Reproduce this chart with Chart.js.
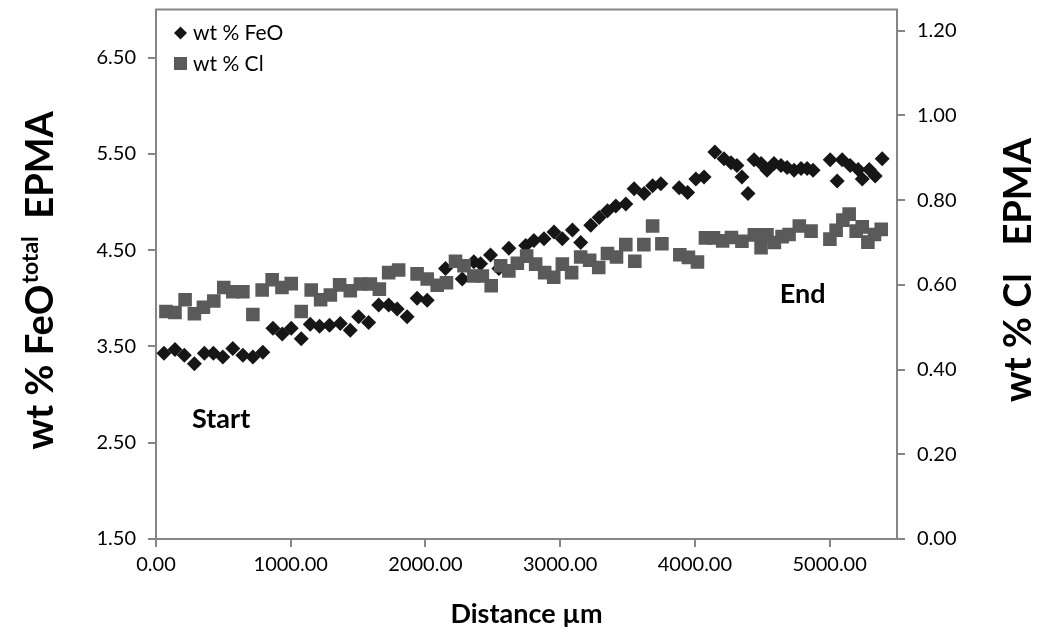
<!DOCTYPE html>
<html>
<head>
<meta charset="utf-8">
<script src="https://cdn.jsdelivr.net/npm/chart.js@4.4.1/dist/chart.umd.min.js"></script>
<style>
  html, body { margin: 0; padding: 0; background: #fff; }
  #wrap { width: 1045px; height: 641px; }
</style>
</head>
<body>
<div id="wrap"><canvas id="c" width="1045" height="641"></canvas></div>
<script>
// distance (µm) and wt % FeO
const feoX = [59,141,210,285,359,426,496,570,645,719,793,868,937,1004,1078,1145,1214,1288,1368,1442,
  1504,1578,1653,1727,1790,1864,1938,2013,2149,2273,2359,2409,2483,2545,2619,2744,2805,2880,2954,3016,
  3091,3152,3227,3289,3351,3413,3487,3549,3623,3686,3747,3883,3946,4007,4068,4148,4216,4268,4312,4349,
  4394,4439,4491,4535,4587,4639,4684,4736,4788,4833,4877,5004,5056,5093,5152,5212,5242,5294,5338,5390];
const feoY = [3.43,3.47,3.41,3.32,3.43,3.43,3.39,3.48,3.41,3.39,3.44,3.69,3.63,3.69,3.58,3.73,3.71,3.72,3.74,3.67,
  3.81,3.75,3.93,3.93,3.89,3.81,4.00,3.98,4.31,4.20,4.38,4.36,4.45,4.31,4.52,4.55,4.60,4.62,4.69,4.62,
  4.71,4.58,4.76,4.84,4.91,4.96,4.98,5.14,5.09,5.17,5.19,5.15,5.10,5.24,5.26,5.52,5.45,5.41,5.38,5.26,
  5.09,5.44,5.40,5.33,5.40,5.38,5.36,5.33,5.35,5.35,5.33,5.44,5.22,5.44,5.38,5.34,5.24,5.34,5.27,5.45];

// distance (µm) and wt % Cl
const clX = [74,141,216,285,352,429,503,570,645,719,788,862,935,1004,1078,1152,1222,1294,1363,1442,
  1517,1591,1658,1727,1801,1938,2013,2087,2156,2223,2286,2359,2422,2488,2558,2619,2682,2751,2818,2885,
  2952,3016,3085,3152,3219,3286,3351,3418,3487,3554,3621,3686,3755,3888,3952,4019,4078,4138,4206,4271,
  4349,4441,4491,4535,4590,4647,4699,4775,4862,5002,5048,5098,5145,5197,5242,5284,5333,5383];
const clY = [0.537,0.535,0.565,0.532,0.547,0.562,0.594,0.584,0.584,0.530,0.588,0.612,0.594,0.603,0.537,0.588,0.565,0.576,0.600,0.586,
  0.602,0.602,0.590,0.629,0.635,0.626,0.614,0.599,0.605,0.656,0.645,0.621,0.621,0.598,0.645,0.633,0.651,0.668,0.649,0.629,
  0.618,0.649,0.629,0.666,0.658,0.641,0.674,0.666,0.695,0.656,0.695,0.739,0.697,0.671,0.665,0.654,0.711,0.711,0.704,0.712,
  0.703,0.718,0.688,0.718,0.700,0.714,0.719,0.739,0.727,0.708,0.729,0.753,0.767,0.727,0.737,0.701,0.719,0.731];

const xTicks = [0,1000,2000,3000,4000,5000];
const feoTicks = [1.5,2.5,3.5,4.5,5.5,6.5];
const clTicks = [0,0.2,0.4,0.6,0.8,1.0,1.2];

// text notes, placed in data units (x µm, y wt % FeO)
const notes = [
  { text: "Start", x: 268, y: 2.65 },
  { text: "End", x: 4630, y: 3.95 }
];

const AXIS = "#868686";
const FEO_COL = "#161616";
const CL_COL = "#5a5a5a";
const FONT = "Lato, 'Open Sans', sans-serif";

const pts = (xs, ys) => xs.map((x, i) => ({ x, y: ys[i] }));

function tickSet(list) {
  return s => { s.ticks = list.map(v => ({ value: v })); };
}

// fixed axis box sizes, no extra room for half tick labels
function fitY(w) {
  return s => { s.width = w; s.paddingTop = 0; s.paddingBottom = 0; };
}

const decor = {
  id: "decor",
  afterDraw(chart) {
    const { ctx, chartArea: a, scales } = chart;
    ctx.save();

    // top frame line
    ctx.strokeStyle = AXIS;
    ctx.lineWidth = 2;
    ctx.beginPath();
    ctx.moveTo(a.left - 1, a.top);
    ctx.lineTo(a.right + 1, a.top);
    ctx.stroke();

    // legend
    ctx.fillStyle = FEO_COL;
    ctx.beginPath();
    ctx.moveTo(174, 33); ctx.lineTo(180.5, 26.5); ctx.lineTo(187, 33); ctx.lineTo(180.5, 39.5);
    ctx.closePath(); ctx.fill();
    ctx.fillStyle = CL_COL;
    ctx.fillRect(174, 57, 13, 13);
    ctx.fillStyle = "#000";
    ctx.font = "21px " + FONT;
    ctx.textBaseline = "middle";
    ctx.textAlign = "left";
    ctx.fillText(chart.data.datasets[0].label, 193, 33);
    ctx.fillText(chart.data.datasets[1].label, 193, 64);

    // notes
    ctx.font = "bold 27px " + FONT;
    ctx.textBaseline = "alphabetic";
    notes.forEach(n => {
      ctx.fillText(n.text, scales.x.getPixelForValue(n.x), scales.y.getPixelForValue(n.y));
    });

    // x title
    ctx.textAlign = "center";
    ctx.font = "bold 27px " + FONT;
    ctx.fillText("Distance µm", (a.left + a.right) / 2, 623);

    // left title with superscript
    const big = "bold 38px " + FONT, small = "bold 23px " + FONT;
    const p1 = "wt % FeO", p2 = "total", p3 = "  EPMA";
    ctx.font = big; const w1 = ctx.measureText(p1).width, w3 = ctx.measureText(p3).width;
    ctx.font = small; const w2 = ctx.measureText(p2).width;
    const tot = w1 + w2 + w3;
    ctx.save();
    ctx.translate(53, (a.top + a.bottom) / 2 + 6 + tot / 2);
    ctx.rotate(-Math.PI / 2);
    ctx.textAlign = "left";
    ctx.font = big; ctx.fillText(p1, 0, 0);
    ctx.font = small; ctx.fillText(p2, w1 + 1, -15);
    ctx.font = big; ctx.fillText(p3, w1 + w2, 0);
    ctx.restore();

    // right title
    ctx.save();
    ctx.translate(1031, 270);
    ctx.rotate(-Math.PI / 2);
    ctx.textAlign = "center";
    ctx.font = big;
    ctx.fillText("wt % Cl   EPMA", 0, 0);
    ctx.restore();

    ctx.restore();
  }
};

const tickFont = { family: FONT, size: 20 };

new Chart(document.getElementById("c"), {
  type: "scatter",
  data: {
    datasets: [
      {
        label: "wt % FeO",
        data: pts(feoX, feoY),
        yAxisID: "y",
        pointStyle: "rectRot",
        radius: 7.5,
        hoverRadius: 7.5,
        backgroundColor: FEO_COL,
        borderWidth: 0,
        order: 1
      },
      {
        label: "wt % Cl",
        data: pts(clX, clY),
        yAxisID: "y1",
        pointStyle: "rect",
        radius: 9.6,
        hoverRadius: 9.6,
        backgroundColor: CL_COL,
        borderWidth: 0,
        order: 0
      }
    ]
  },
  options: {
    responsive: false,
    devicePixelRatio: 1,
    animation: false,
    layout: { padding: { top: 9, left: 0, right: 0, bottom: 0 } },
    plugins: { legend: { display: false }, tooltip: { enabled: false } },
    scales: {
      x: {
        type: "linear",
        min: 0, max: 5500,
        afterBuildTicks: tickSet(xTicks),
        afterFit: s => { s.height = 102; },
        ticks: { font: tickFont, color: "#000", padding: 6, maxRotation: 0, callback: v => v.toFixed(2) },
        grid: { drawOnChartArea: false, drawTicks: true, tickLength: 8, color: AXIS, lineWidth: 2 },
        border: { display: true, color: AXIS, width: 2 }
      },
      y: {
        position: "left",
        min: 1.5, max: 7.0,
        afterBuildTicks: tickSet(feoTicks),
        afterFit: fitY(156),
        ticks: { font: tickFont, color: "#000", padding: 12, callback: v => v.toFixed(2) },
        grid: { drawOnChartArea: false, drawTicks: true, tickLength: 8, color: AXIS, lineWidth: 2 },
        border: { display: true, color: AXIS, width: 2 }
      },
      y1: {
        position: "right",
        min: 0, max: 1.25,
        afterBuildTicks: tickSet(clTicks),
        afterFit: fitY(148),
        ticks: { font: tickFont, color: "#000", padding: 12, callback: v => v.toFixed(2) },
        grid: { drawOnChartArea: false, drawTicks: true, tickLength: 8, color: AXIS, lineWidth: 2 },
        border: { display: true, color: AXIS, width: 2 }
      }
    }
  },
  plugins: [decor]
});
</script>
</body>
</html>
